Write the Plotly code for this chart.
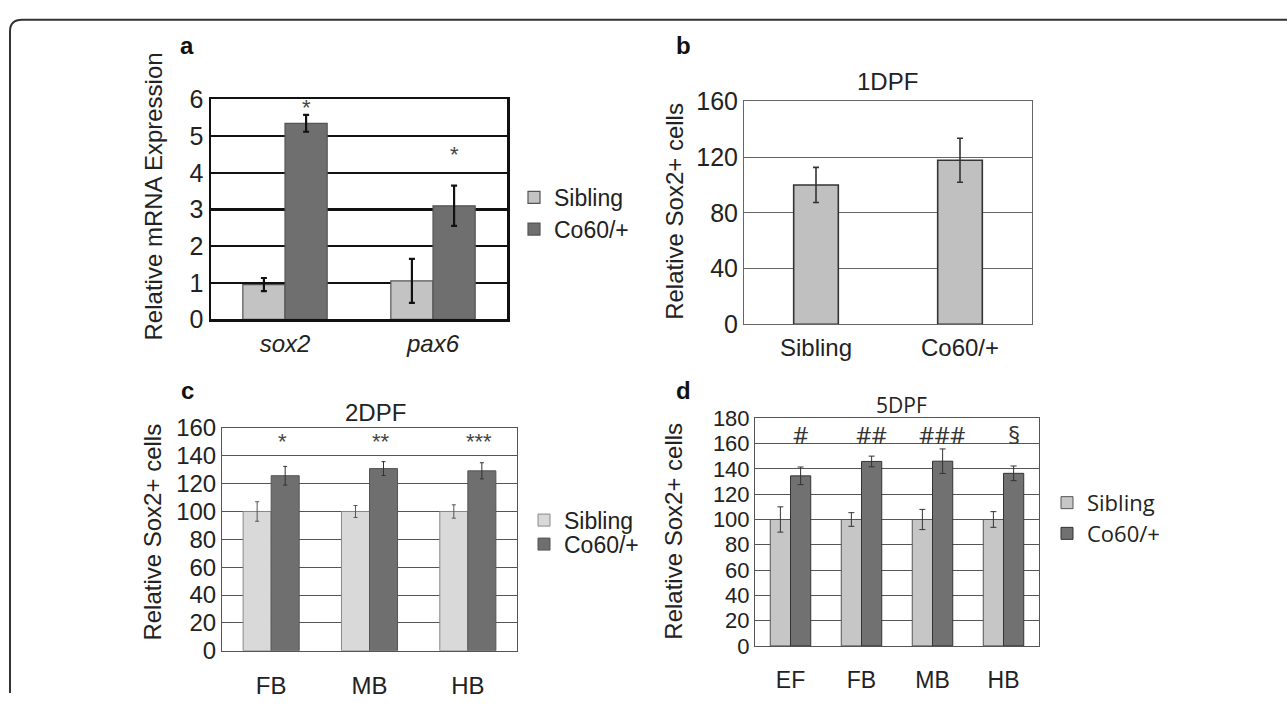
import plotly.graph_objects as go

W, H = 1287, 707

# ---------------- data ----------------
cats_a = ["sox2", "pax6"]
sib_a = [0.95, 1.05]
sib_a_err = [0.18, 0.60]
co_a = [5.35, 3.10]
co_a_err = [0.23, 0.55]
sig_a = ["*", "*"]
sig_a_y = [5.79, 4.5]

cats_b = ["Sibling", "Co60/+"]
vals_b = [100.0, 117.7]
err_b = [12.6, 15.8]

cats_c = ["FB", "MB", "HB"]
sib_c = [100, 100, 100]
sib_c_err = [7.0, 4.3, 4.8]
co_c = [125.7, 130.8, 129.2]
co_c_err = [6.7, 5.0, 5.8]
sig_c = ["*", "**", "***"]
sig_c_y = [150, 150, 150]

cats_d = ["EF", "FB", "MB", "HB"]
sib_d = [100, 100, 100, 100]
sib_d_err = [10.0, 5.4, 8.0, 6.2]
co_d = [134.5, 145.9, 146.1, 136.5]
co_d_err = [7.0, 4.2, 9.7, 5.8]
sig_d = ["#", "##", "###", "§"]
sig_d_y = [167.6, 167.6, 167.6, 167.6]

series_names = ["Sibling", "Co60/+"]


def px_x(x):
    return x / W


def px_y(y):
    return 1 - y / H


def dom_x(x0, x1):
    return [px_x(x0), px_x(x1)]


def dom_y(y0, y1):
    return [px_y(y1), px_y(y0)]


ARIAL = "Liberation Sans, Arial, sans-serif"
SEGOE = "Open Sans, sans-serif"

fig = go.Figure()

# ---- panel a ----
fig.add_trace(go.Bar(x=cats_a, y=sib_a, name=series_names[0], xaxis="x", yaxis="y",
                     marker=dict(color="#c3c3c3", line=dict(color="#555", width=1.2)),
                     error_y=dict(type="data", array=sib_a_err, color="#111", thickness=2.2, width=3),
                     legend="legend", offsetgroup="s"))
fig.add_trace(go.Bar(x=cats_a, y=co_a, name=series_names[1], xaxis="x", yaxis="y",
                     marker=dict(color="#6f6f6f", line=dict(color="#555", width=1.2)),
                     error_y=dict(type="data", array=co_a_err, color="#111", thickness=2.2, width=3),
                     legend="legend2", offsetgroup="c"))

# ---- panel b ----
fig.add_trace(go.Bar(x=cats_b, y=vals_b, xaxis="x2", yaxis="y2", showlegend=False, width=0.31,
                     marker=dict(color="#c0c0c0", line=dict(color="#333", width=1.6)),
                     error_y=dict(type="data", array=err_b, color="#333", thickness=1.6, width=3)))

# ---- panel c ----
fig.add_trace(go.Bar(x=cats_c, y=sib_c, name=series_names[0], xaxis="x3", yaxis="y3",
                     marker=dict(color="#d9d9d9", line=dict(color="#888", width=1)),
                     error_y=dict(type="data", array=sib_c_err, color="#555", thickness=1, width=2),
                     legend="legend3", offsetgroup="s"))
fig.add_trace(go.Bar(x=cats_c, y=co_c, name=series_names[1], xaxis="x3", yaxis="y3",
                     marker=dict(color="#6f6f6f", line=dict(color="#555", width=1)),
                     error_y=dict(type="data", array=co_c_err, color="#333", thickness=1, width=2),
                     legend="legend4", offsetgroup="c"))

# ---- panel d ----
fig.add_trace(go.Bar(x=cats_d, y=sib_d, name=series_names[0], xaxis="x4", yaxis="y4",
                     marker=dict(color="#c6c6c6", line=dict(color="#555", width=1)),
                     error_y=dict(type="data", array=sib_d_err, color="#333", thickness=1, width=3),
                     legend="legend5", offsetgroup="s"))
fig.add_trace(go.Bar(x=cats_d, y=co_d, name=series_names[1], xaxis="x4", yaxis="y4",
                     marker=dict(color="#717171", line=dict(color="#333", width=1)),
                     error_y=dict(type="data", array=co_d_err, color="#333", thickness=1, width=3),
                     legend="legend6", offsetgroup="c"))

annotations = []
# significance labels
for c, t, yv in zip(cats_a, sig_a, sig_a_y):
    annotations.append(dict(x=c, y=yv, xref="x", yref="y", text=t, showarrow=False, xshift=21,
                            xanchor="center", yanchor="middle",
                            font=dict(family=ARIAL, size=22, color="#444")))
for c, t, yv in zip(cats_c, sig_c, sig_c_y):
    annotations.append(dict(x=c, y=yv, xref="x3", yref="y3", text=t, showarrow=False, xshift=11,
                            xanchor="center", yanchor="middle",
                            font=dict(family=ARIAL, size=22, color="#444")))
for c, t, yv in zip(cats_d, sig_d, sig_d_y):
    annotations.append(dict(x=c, y=yv, xref="x4", yref="y4", text=t, showarrow=False, xshift=10,
                            xanchor="center", yanchor="middle",
                            font=dict(family=SEGOE, size=24, color="#333")))


def paper_text(text, x, y, size, family=ARIAL, angle=0, color="#222"):
    return dict(x=px_x(x), y=px_y(y), xref="paper", yref="paper", text=text, showarrow=False,
                xanchor="center", yanchor="middle", textangle=angle,
                font=dict(family=family, size=size, color=color))


# panel letters
for letter, (lx, ly) in zip(["a", "b", "c", "d"], [(187, 33), (683, 33), (187, 392), (683, 392)]):
    annotations.append(paper_text("<b>%s</b>" % letter, lx, ly, 24, color="#111"))

# titles
annotations.append(paper_text("1DPF", 887, 70, 24))
annotations.append(paper_text("2DPF", 375, 415, 24))
annotations.append(paper_text("5DPF", 902, 407, 21, family=SEGOE))

# y-axis titles
for txt, (tx, ty) in [("Relative mRNA Expression", (153, 190)), ("Relative Sox2+ cells", (675, 206)),
                      ("Relative Sox2+ cells", (153, 540)), ("Relative Sox2+ cells", (674, 539))]:
    annotations.append(paper_text(txt, tx, ty, 24, angle=-90))


def xax(domain, anchor, size, line_color, line_w, italic=False, standoff=8):
    f = dict(family=ARIAL, size=size, color="#222")
    if italic:
        f["style"] = "italic"
    return dict(domain=domain, anchor=anchor, type="category", showline=True, linecolor=line_color,
                linewidth=line_w, mirror=True, ticks="", tickfont=f, showgrid=False, fixedrange=True,
                ticklabelstandoff=standoff)


def yax(domain, anchor, rng, dtick, size, grid_color, grid_w, line_color, line_w):
    return dict(domain=domain, anchor=anchor, range=rng, dtick=dtick, showline=True, linecolor=line_color,
                linewidth=line_w, mirror=True, ticks="", showgrid=True, gridcolor=grid_color, gridwidth=grid_w,
                zeroline=False, tickfont=dict(family=ARIAL, size=size, color="#222"), fixedrange=True)


def one_legend(x_sq, y_row, size, family=ARIAL):
    return dict(x=px_x(x_sq - 20), y=px_y(y_row), xanchor="left", yanchor="middle",
                bgcolor="rgba(0,0,0,0)", font=dict(family=family, size=size, color="#222"))


# outer frame (top + left edges with rounded corner)
frame_path = "M %f,%f L %f,%f Q %f,%f %f,%f L %f,%f" % (
    px_x(10), px_y(707), px_x(10), px_y(18), px_x(10), px_y(6), px_x(22), px_y(6), px_x(1287), px_y(6))

fig.update_layout(
    width=W, height=H, margin=dict(l=0, r=0, t=0, b=0),
    paper_bgcolor="white", plot_bgcolor="white",
    barmode="group", bargap=0.43, bargroupgap=0,
    xaxis=xax(dom_x(211, 507), "y", 24, "#111", 2.5, italic=True, standoff=1),
    yaxis=yax(dom_y(89, 318), "x", [0, 6], 1, 25, "#111", 2.5, "#111", 2.5),
    xaxis2=xax(dom_x(744, 1032), "y2", 24, "#666", 1, standoff=2),
    yaxis2=yax(dom_y(91, 323), "x2", [0, 160], 40, 25, "#666", 1, "#666", 1),
    xaxis3=xax(dom_x(222, 517), "y3", 24, "#555", 1, standoff=13),
    yaxis3=yax(dom_y(431, 663), "x3", [0, 160], 20, 24, "#555", 1, "#555", 1),
    xaxis4=xax(dom_x(755, 1039), "y4", 23, "#555", 1, standoff=13),
    yaxis4=yax(dom_y(421, 658), "x4", [0, 180], 20, 22, "#555", 1, "#555", 1),
    legend=one_legend(534, 191, 23),
    legend2=one_legend(534, 224, 23),
    legend3=one_legend(544, 527, 23),
    legend4=one_legend(544, 552, 23),
    legend5=one_legend(1067, 509, 22, SEGOE),
    legend6=one_legend(1067, 541, 22, SEGOE),
    annotations=annotations,
    shapes=[dict(type="path", path=frame_path, xref="paper", yref="paper",
                 line=dict(color="#333", width=2))],
)

fig.write_html("out.html", config={"displayModeBar": False, "staticPlot": True},
               post_script="document.body.style.margin='0';document.body.style.overflow='hidden';")
